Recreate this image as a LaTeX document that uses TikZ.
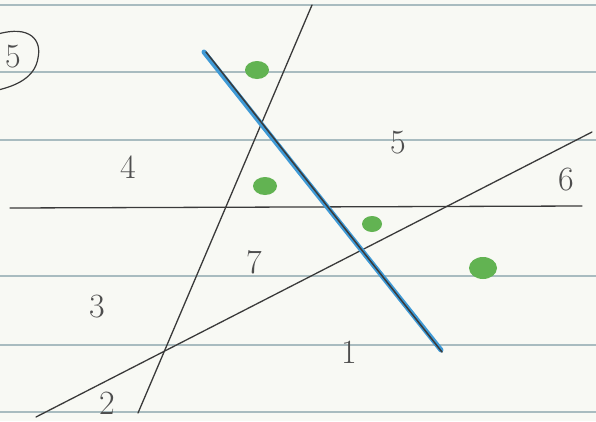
\documentclass[tikz,border=0pt]{standalone}
\usepackage{tikz}
\begin{document}
\definecolor{paper}{HTML}{F8F9F4}
\definecolor{rule}{HTML}{A9BCC0}
\definecolor{pencil}{HTML}{3A3A3A}
\definecolor{bluepen}{HTML}{3F9AD6}
\definecolor{greendot}{HTML}{62B352}
\tikzset{
  ruled/.style={rule, line width=1.3pt},
  pencilline/.style={pencil, line width=1.3pt, line cap=round},
  label/.style={text=pencil!90, font=\fontsize{34}{36}\selectfont, inner sep=0pt}
}
\begin{tikzpicture}[x=1pt,y=-1pt]
\useasboundingbox (0,0) rectangle (596,421);
\fill[paper] (0,0) rectangle (596,421);
% ruled lines
\foreach \y in {5,72,140,276,345,412}
  \draw[ruled] (0,\y) -- (596,\y);
% endpoints
\coordinate (h1) at (10,208);
\coordinate (h2) at (582,206);
\coordinate (a1) at (312,5);
\coordinate (a2) at (138,413);
\coordinate (b1) at (36,417);
\coordinate (b2) at (592,132);
\coordinate (c1) at (204,52);
\coordinate (c2) at (441,350);
% lines
\draw[pencilline] (h1) -- (h2);
\draw[pencilline] (a1) -- (a2);
\draw[pencilline] (b1) -- (b2);
\draw[bluepen, line width=5pt, line cap=round] (c1) -- (c2);
\draw[pencil, line width=1.5pt, line cap=round] ([xshift=2pt]c1) -- ([xshift=1pt,yshift=-2pt]c2);
% green dots
\fill[greendot] (257,70) ellipse [x radius=12, y radius=9];
\fill[greendot] (265,186) ellipse [x radius=12, y radius=9];
\fill[greendot] (372,224) ellipse [x radius=10, y radius=8];
\fill[greendot] (483,268) ellipse [x radius=14, y radius=11];
% region labels
\node[label] (l4) at (128,167) {4};
\node[label] (l5) at (398,143) {5};
\node[label] (l6) at (566,180) {6};
\node[label] (l7) at (254,262) {7};
\node[label] (l3) at (97,307) {3};
\node[label] (l1) at (349,352) {1};
\node[label] (l2) at (107,403) {2};
% problem number
\node[label] (num) at (13,57) {5};
\draw[pencil, line width=1.2pt, line cap=round] (-2,34) .. controls (30,25) and (42,40) .. (38,58) .. controls (35,78) and (15,86) .. (-2,90);
\end{tikzpicture}
\end{document}
